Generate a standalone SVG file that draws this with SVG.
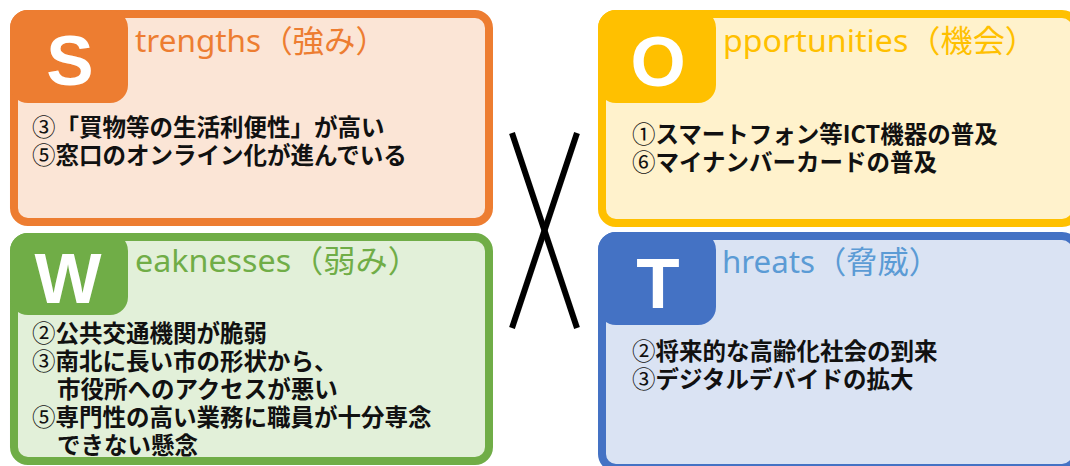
<svg xmlns="http://www.w3.org/2000/svg" width="1070" height="466" viewBox="0 0 1070 466">
<style>
.frame{stroke-width:8}
.letter{font-family:"Liberation Sans","Noto Sans",sans-serif;font-weight:bold;font-size:71px;fill:#ffffff;text-anchor:middle}
.title{font-family:"Noto Sans","Noto Sans CJK JP",sans-serif;font-size:31px}
.body{font-family:"Noto Sans CJK JP","Noto Sans",sans-serif;font-weight:bold;font-size:23.5px;fill:#111111}
.num{font-weight:normal}
</style>
<rect width="1070" height="466" fill="#ffffff"/>
<g id="strengths">
<rect class="frame" x="14" y="14" width="475" height="208" rx="14" fill="#FBE5D6" stroke="#ED7D31"/>
<rect x="10" y="10" width="118" height="93" rx="18" fill="#ED7D31"/>
<text class="letter" x="70" y="85">S</text>
<text class="title" x="135" y="52" fill="#ED7D31" textLength="252" lengthAdjust="spacingAndGlyphs">trengths（強み）</text>
<text class="body" x="32" y="136"><tspan class="num">③</tspan>「買物等の生活利便性」が高い</text>
<text class="body" x="32" y="164"><tspan class="num">⑤</tspan>窓口のオンライン化が進んでいる</text>
</g>
<g id="opportunities">
<rect class="frame" x="602" y="14" width="474" height="209" rx="14" fill="#FFF2CC" stroke="#FFC000"/>
<rect x="598" y="10" width="118" height="93" rx="18" fill="#FFC000"/>
<text class="letter" x="658" y="86">O</text>
<text class="title" x="723" y="52" fill="#FFC000" textLength="314" lengthAdjust="spacingAndGlyphs">pportunities（機会）</text>
<text class="body" x="632" y="143"><tspan class="num">①</tspan>スマートフォン等ICT機器の普及</text>
<text class="body" x="632" y="171"><tspan class="num">⑥</tspan>マイナンバーカードの普及</text>
</g>
<g id="weaknesses">
<rect class="frame" x="14" y="237" width="475" height="224" rx="14" fill="#E2F0D9" stroke="#70AD47"/>
<rect x="10" y="233" width="118" height="82" rx="18" fill="#70AD47"/>
<text class="letter" x="68" y="303">W</text>
<text class="title" x="135" y="272" fill="#70AD47" textLength="285" lengthAdjust="spacingAndGlyphs">eaknesses（弱み）</text>
<text class="body" x="32" y="342"><tspan class="num">②</tspan>公共交通機関が脆弱</text>
<text class="body" x="32" y="370"><tspan class="num">③</tspan>南北に長い市の形状から、</text>
<text class="body" x="57" y="398">市役所へのアクセスが悪い</text>
<text class="body" x="32" y="426"><tspan class="num">⑤</tspan>専門性の高い業務に職員が十分専念</text>
<text class="body" x="57" y="454">できない懸念</text>
</g>
<g id="threats">
<rect class="frame" x="602" y="236" width="474" height="232" rx="14" fill="#DAE3F3" stroke="#4472C4"/>
<rect x="598" y="232" width="118" height="93" rx="18" fill="#4472C4"/>
<text class="letter" x="658" y="308">T</text>
<text class="title" x="722" y="273" fill="#5B9BD5" textLength="218" lengthAdjust="spacingAndGlyphs">hreats（脅威）</text>
<text class="body" x="632" y="360"><tspan class="num">②</tspan>将来的な高齢化社会の到来</text>
<text class="body" x="632" y="388"><tspan class="num">③</tspan>デジタルデバイドの拡大</text>
</g>
<g id="connectors" stroke="#000000" stroke-width="6" fill="none">
<line x1="512" y1="133" x2="577" y2="328"/>
<line x1="577" y1="133" x2="512" y2="328"/>
</g>
</svg>
